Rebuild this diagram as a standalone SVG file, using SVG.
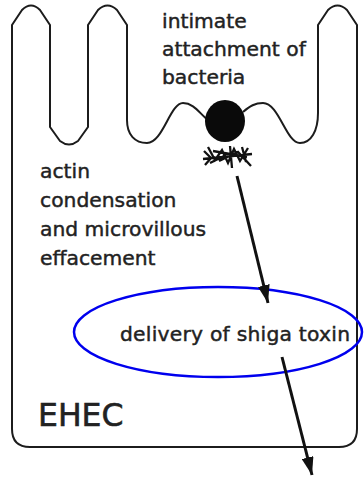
<svg xmlns="http://www.w3.org/2000/svg" width="364" height="478" viewBox="0 0 364 478">
  <style>
    .outline { fill: none; stroke: #1c1c1c; stroke-width: 2; stroke-linejoin: round; }
    .label { font-family: "DejaVu Sans", "Liberation Sans", sans-serif; font-size: 20.3px; fill: #222; stroke: #222; stroke-width: 0.45; }
    .big { font-size: 31.5px; stroke-width: 0.6; }
    .edge { stroke: #111; stroke-width: 3; fill: none; }
  </style>
  <defs>
    <marker id="head" markerUnits="userSpaceOnUse" markerWidth="20" markerHeight="12" refX="18" refY="6" orient="auto">
      <path d="M0,0 L18,6 L0,12 Z" fill="#111"/>
    </marker>
  </defs>

  <rect width="364" height="478" fill="#ffffff"/>

  <!-- epithelial cell with microvilli; the membrane runs from the bacterium's right side round to its left side -->
  <g id="cell">
    <path class="outline" d="M243,112 C250,106 255,103 263,103 C279,103 286,143 300,143 C311,143 318,131 318,113
      L318,25 L328,10 Q337.5,1 347,10 L357,25 L357,429 Q357,447 339,447 L30,447 Q12,447 12,429
      L12,25 L22,10 Q31,1 40,10 L50,25 L50,127 L60,141 Q69,148 78,141 L88,127
      L88,25 L98,10 Q107.5,1 117,10 L127,25 L127,120
      C127,135 135,143 147,143 C163,143 170,103 183,103 C194,103 200,114 208,120"/>
  </g>

  <!-- attached bacterium -->
  <g id="bacterium">
    <ellipse cx="225" cy="121" rx="20" ry="21" fill="#0a0a0a"/>
  </g>

  <!-- actin pedestal under the bacterium -->
  <g id="actin">
    <path d="M204,151 L211,158 L205,165 M208,147 L215,160 L222,150 L228,163 L234,149 L240,161 L248,148
             M213,151 L247,157 M219,161 L238,152 L251,166 M230,146 L232,168 M203,159 L252,154
             M242,147 L246,162 M210,163 L226,155" stroke="#111" stroke-width="2.3" fill="none"/>
  </g>

  <g id="text-attachment">
    <text class="label" x="162" y="28">intimate</text>
    <text class="label" x="162" y="56">attachment of</text>
    <text class="label" x="162" y="84">bacteria</text>
  </g>

  <g id="text-actin">
    <text class="label" x="40" y="178">actin</text>
    <text class="label" x="40" y="207">condensation</text>
    <text class="label" x="40" y="236">and microvillous</text>
    <text class="label" x="40" y="265">effacement</text>
  </g>

  <g id="toxin">
    <ellipse cx="218" cy="332" rx="144" ry="45" fill="none" stroke="#0000ee" stroke-width="2.5"/>
    <text class="label" x="120" y="341" textLength="230">delivery of shiga toxin</text>
  </g>

  <g id="label-ehec">
    <text class="label big" x="38" y="426">EHEC</text>
  </g>

  <g id="connectors">
    <line class="edge" x1="237" y1="176" x2="268" y2="303" marker-end="url(#head)"/>
    <line class="edge" x1="282" y1="357" x2="312" y2="475" marker-end="url(#head)"/>
  </g>
</svg>
